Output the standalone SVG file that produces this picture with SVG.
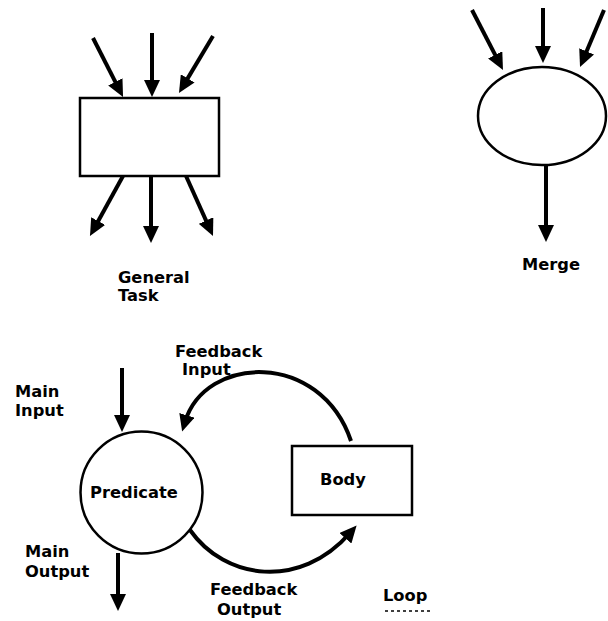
<svg xmlns="http://www.w3.org/2000/svg" width="608" height="621" viewBox="0 0 608 621">
  <style>
    .shape { fill: #fff; stroke: #000; stroke-width: 2.5; }
    .flow { fill: none; stroke: #000; stroke-width: 4; marker-end: url(#head); }
    .label { font-family: "DejaVu Sans", "Liberation Sans", sans-serif; font-weight: bold; font-size: 16.3px; fill: #000; }
  </style>
  <defs>
    <marker id="head" markerUnits="userSpaceOnUse" markerWidth="17" markerHeight="16" refX="7" refY="8" orient="auto">
      <path d="M0,0 L17,8 L0,16 Z" fill="#000"/>
    </marker>
  </defs>
  <rect width="608" height="621" fill="#fff"/>

  <!-- general task -->
  <g id="general-task">
    <rect class="shape" x="80" y="98" width="139" height="78"/>
    <text class="label" x="118" y="283">General</text>
    <text class="label" x="118" y="301">Task</text>
  </g>

  <!-- merge -->
  <g id="merge">
    <ellipse class="shape" cx="542" cy="116" rx="64" ry="49"/>
    <text class="label" x="522" y="270">Merge</text>
  </g>

  <!-- loop: predicate -->
  <g id="predicate">
    <circle class="shape" cx="141.5" cy="492.5" r="61"/>
    <text class="label" x="90" y="498">Predicate</text>
  </g>

  <!-- loop: body -->
  <g id="body">
    <rect class="shape" x="292" y="446" width="120" height="69"/>
    <text class="label" x="320" y="485">Body</text>
  </g>

  <!-- free labels -->
  <g id="labels">
    <text class="label" x="15" y="397">Main</text>
    <text class="label" x="15" y="416">Input</text>
    <text class="label" x="25" y="557">Main</text>
    <text class="label" x="25" y="577">Output</text>
    <text class="label" x="175" y="357">Feedback</text>
    <text class="label" x="182" y="375">Input</text>
    <text class="label" x="210" y="595">Feedback</text>
    <text class="label" x="217" y="614.5">Output</text>
    <text class="label" x="383" y="601">Loop</text>
    <line x1="385" y1="611" x2="431" y2="611" stroke="#000" stroke-width="1.5" stroke-dasharray="3 3"/>
  </g>

  <!-- connectors -->
  <g id="connectors">
    <!-- into / out of general task -->
    <path class="flow" d="M93,38 L118.5,88.1"/>
    <path class="flow" d="M152,33 L152,87"/>
    <path class="flow" d="M213,36 L184.1,84.4"/>
    <path class="flow" d="M123,176 L94.8,227.2"/>
    <path class="flow" d="M151,176 L151,233"/>
    <path class="flow" d="M186,176 L208.9,226.9"/>
    <!-- into / out of merge -->
    <path class="flow" d="M472,10 L498.4,61.1"/>
    <path class="flow" d="M543,8 L543,53"/>
    <path class="flow" d="M604,10 L583.9,57.8"/>
    <path class="flow" d="M546,165 L546,232"/>
    <!-- loop -->
    <path class="flow" d="M122,368 L122,422"/>
    <path class="flow" d="M118,553 L118,601"/>
    <path class="flow" d="M351,441 C320,350 205,355 185,422"/>
    <path class="flow" d="M190,530 C225,580 300,590 350,533"/>
  </g>
</svg>
